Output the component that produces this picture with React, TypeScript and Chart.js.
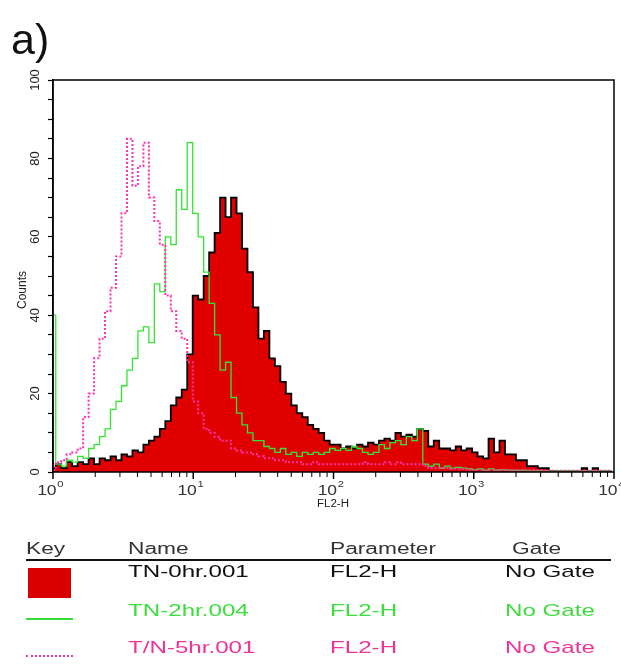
import React, { useEffect, useRef } from 'react';
import { Chart, registerables } from 'chart.js';

Chart.register(...registerables);

// ---- axis definitions ----
const X_TICKS = [
  1, 2, 3, 4, 5, 6, 7, 8, 9,
  10, 20, 30, 40, 50, 60, 70, 80, 90,
  100, 200, 300, 400, 500, 600, 700, 800, 900,
  1000, 2000, 3000, 4000, 5000, 6000, 7000, 8000, 9000,
  10000,
];
const X_DECADES = [1, 10, 100, 1000, 10000];
const X_EXPONENTS = ['0', '1', '2', '3', '4'];
const Y_TICKS = [0, 5, 10, 15, 20, 25, 30, 35, 40, 45, 50, 55, 60, 65, 70, 75, 80, 85, 90, 95, 100];
const Y_LABELS = [0, 20, 40, 60, 80, 100];

// FACS 1024-channel / 4-decade log amplifier: FL2-H = 10^(channel/256); histograms binned every 10 channels
const CHANNEL_STEP = 10;
const CHANNELS_PER_DECADE = 256;

// ---- histogram counts, one value per 10-channel bin ----
const RED_0HR = [
  1, 2, 1, 2.5, 1.5, 2.5, 2, 3.5, 2, 3.5,
  3, 4, 3, 4.5, 4, 5.5, 5, 7, 8, 9,
  11, 13, 17, 19, 21, 30, 45, 44, 50, 56,
  61, 70, 65, 70, 66, 57, 51, 42, 34, 36,
  29, 27, 23, 20, 17, 15, 14, 12, 11, 10,
  8, 7, 7, 6, 6.5, 6, 7, 6.5, 7.5, 7,
  8, 8.5, 8, 10, 9, 9.5, 9, 11, 10.5, 6.5,
  8, 6, 6, 5.5, 6.5, 5.5, 6, 5, 4, 3.5,
  8.5, 5, 8, 4.5, 4.5, 3, 3, 1.5, 1.5, 1,
  1, 0.3, 0.2, 0.2, 0.2, 0.2, 0.2, 1, 0.2, 1,
  0.2, 0.2, 0.2,
];
const GREEN_2HR = [
  40, 2, 1.5, 3, 2.5, 4, 3.5, 6, 7, 9,
  11, 16, 18, 22, 26, 29, 36, 37, 33, 48,
  46, 60, 58, 72, 67, 84, 66, 60, 51, 43,
  35, 26, 28, 19, 15, 12, 10, 8, 8, 6.5,
  6, 5, 6, 4.5, 5, 4, 5, 4.5, 5, 4.5,
  5, 6, 5.5, 6, 5.5, 6.5, 6, 5, 4.5, 5,
  7, 6, 7.5, 8, 7, 9, 8, 11, 2, 1.5,
  2, 1, 1.5, 1, 1.2, 1, 0.8, 0.6, 0.8, 0.5,
  0.8, 0.5, 0.6, 0.5, 0.4, 0.4, 0.4, 0.3, 0.3, 0.3,
  0.3, 0.3, 0.3, 0.3, 0.3, 0.3, 0.3, 0.3, 0.3, 0.3,
  0.3, 0.3, 0.3,
];
const PINK_5HR = [
  0.5, 2.5, 3, 4.5, 5, 6, 14, 20, 29, 34,
  41, 47, 55, 66, 85, 73, 78, 84, 70, 64,
  58, 45, 41, 36, 34, 28, 18, 15, 11, 10,
  9, 8, 8, 6, 5.5, 5, 5, 4.5, 4, 3.5,
  3.5, 3, 3, 2.5, 2.5, 2.5, 2, 2, 2.5, 2,
  2, 2, 2, 2, 2, 2, 2, 2.5, 2, 2,
  2, 2.5, 2, 2.5, 2, 2, 2, 2, 1.5, 1,
  1, 1, 1, 0.8, 0.8, 0.8, 0.6, 0.6, 0.5, 0.5,
  0.5, 0.5, 0.5, 0.5, 0.5, 0.5, 0.5, 0.5, 0.5, 0.5,
  0.3, 0.3, 0.3, 0.3, 0.3, 0.3, 0.3, 0.3, 0.3, 0.3,
  0.3, 0.3, 0.3,
];

// ---- key table ----
const KEY_HEADERS = ['Key', 'Name', 'Parameter', 'Gate'];
const KEY_NAMES = ['TN-0hr.001', 'TN-2hr.004', 'T/N-5hr.001'];
const KEY_PARAMS = ['FL2-H', 'FL2-H', 'FL2-H'];
const KEY_GATES = ['No Gate', 'No Gate', 'No Gate'];

const RED = '#e00000';
const GREEN = '#33e633';
const PINK = '#ff33aa';
const FONT = '"Liberation Sans", Arial, Helvetica, sans-serif';

const toPoints = (vals: number[]) =>
  vals.map((y, i) => ({ x: Math.pow(10, (i * CHANNEL_STEP) / CHANNELS_PER_DECADE), y }));

const framePlugin = {
  id: 'frame',
  afterDraw(chart: any) {
    const { ctx, chartArea: a } = chart;
    const x = chart.scales.x;
    ctx.save();
    ctx.strokeStyle = '#000';
    ctx.lineWidth = 1.5;
    ctx.strokeRect(a.left, a.top, a.right - a.left, a.bottom - a.top);
    X_TICKS.forEach((v) => {
      const px = x.getPixelForValue(v);
      const major = X_DECADES.includes(v);
      ctx.lineWidth = major ? 1.5 : 1;
      ctx.beginPath();
      ctx.moveTo(px, a.bottom);
      ctx.lineTo(px, a.bottom + (major ? 7 : 5));
      ctx.stroke();
    });
    ctx.fillStyle = '#333';
    ctx.textBaseline = 'alphabetic';
    X_DECADES.forEach((v, i) => {
      const px = x.getPixelForValue(v) - 3;
      ctx.save();
      ctx.translate(px, a.bottom);
      ctx.scale(1.25, 1);
      ctx.font = `14px ${FONT}`;
      const w1 = ctx.measureText('10').width;
      ctx.font = `9px ${FONT}`;
      const w2 = ctx.measureText(X_EXPONENTS[i]).width;
      const start = -(w1 + w2) / 2;
      ctx.font = `14px ${FONT}`;
      ctx.fillText('10', start, 23);
      ctx.font = `9px ${FONT}`;
      ctx.fillText(X_EXPONENTS[i], start + w1 + 0.5, 15);
      ctx.restore();
    });
    ctx.restore();
  },
};

function HistogramChart() {
  const ref = useRef<HTMLCanvasElement | null>(null);
  useEffect(() => {
    if (!ref.current) return;
    const chart = new Chart(ref.current, {
      type: 'line',
      data: {
        datasets: [
          {
            label: 'T/N-5hr.001',
            data: toPoints(PINK_5HR),
            borderColor: PINK,
            borderWidth: 2,
            borderDash: [2, 2],
            stepped: 'middle',
            pointRadius: 0,
            fill: false,
          },
          {
            label: 'TN-2hr.004',
            data: toPoints(GREEN_2HR),
            borderColor: GREEN,
            borderWidth: 1.3,
            stepped: 'middle',
            pointRadius: 0,
            fill: false,
          },
          {
            label: 'TN-0hr.001',
            data: toPoints(RED_0HR),
            borderColor: '#000',
            borderWidth: 1.8,
            backgroundColor: RED,
            stepped: 'middle',
            pointRadius: 0,
            fill: 'origin',
          },
        ],
      },
      options: {
        animation: false,
        responsive: false,
        maintainAspectRatio: false,
        layout: { padding: { left: 0, top: 80, right: 7, bottom: 152 } },
        plugins: { legend: { display: false }, tooltip: { enabled: false } },
        scales: {
          x: {
            type: 'logarithmic',
            min: 1,
            max: 10000,
            afterBuildTicks: (s: any) => {
              s.ticks = X_TICKS.map((v) => ({ value: v }));
            },
            afterFit: (s: any) => {
              s.height = 40;
            },
            grid: { display: false },
            border: { display: false },
            ticks: { display: false },
          },
          y: {
            type: 'linear',
            min: 0,
            max: 100,
            afterBuildTicks: (s: any) => {
              s.ticks = Y_TICKS.map((v) => ({ value: v }));
            },
            afterFit: (s: any) => {
              s.width = 53;
            },
            grid: { drawOnChartArea: false, drawTicks: true, tickLength: 5, color: '#000', tickWidth: 1.2 },
            border: { display: true, color: '#000', width: 1.5 },
            ticks: {
              autoSkip: false,
              minRotation: 90,
              maxRotation: 90,
              crossAlign: 'center',
              padding: 2,
              color: '#222',
              font: { family: FONT, size: 13 },
              callback: (v: any) => (Y_LABELS.includes(Number(v)) ? String(v) : ''),
            },
          },
        },
      },
      plugins: [framePlugin],
    } as any);
    return () => chart.destroy();
  }, []);
  return <canvas ref={ref} width={621} height={664} style={{ position: 'absolute', left: 0, top: 0 }} />;
}

const txt = (
  s: string,
  left: number,
  top: number,
  size: number,
  color: string,
  stretch = 1.42,
): React.ReactElement => (
  <div
    key={`${s}-${left}-${top}`}
    style={{
      position: 'absolute',
      left,
      top,
      fontFamily: FONT,
      fontSize: size,
      lineHeight: `${size}px`,
      color,
      whiteSpace: 'nowrap',
      transform: `scaleX(${stretch})`,
      transformOrigin: 'left center',
    }}
  >
    {s}
  </div>
);

export default function App() {
  const rowColors = ['#111', '#3ddd3d', '#ee3399'];
  const rowTops = [563, 602, 639];
  const colLeft = [26, 128, 330, 505];
  const headLeft = [26, 128, 330, 512];
  return (
    <div style={{ position: 'fixed', left: 0, top: 0, width: 621, height: 664, background: '#fff', overflow: 'hidden' }}>
      <HistogramChart />
      <div style={{ position: 'absolute', left: 11, top: 18, fontFamily: FONT, fontSize: 43, lineHeight: '43px', color: '#111' }}>a)</div>
      <div
        style={{
          position: 'absolute',
          left: 22,
          top: 290,
          fontFamily: FONT,
          fontSize: 12,
          lineHeight: '12px',
          color: '#222',
          transform: 'translate(-50%, -50%) rotate(-90deg)',
          whiteSpace: 'nowrap',
        }}
      >
        Counts
      </div>
      <div
        style={{
          position: 'absolute',
          left: 333,
          top: 504,
          fontFamily: FONT,
          fontSize: 10,
          lineHeight: '10px',
          color: '#222',
          transform: 'translate(-50%, -50%) scaleX(1.15)',
          whiteSpace: 'nowrap',
        }}
      >
        FL2-H
      </div>
      {KEY_HEADERS.map((h, i) => txt(h, headLeft[i], 541, 16, '#333'))}
      <div style={{ position: 'absolute', left: 26, top: 559, width: 585, height: 2, background: '#111' }} />
      <div style={{ position: 'absolute', left: 28, top: 568, width: 43, height: 30, background: '#d80000' }} />
      <div style={{ position: 'absolute', left: 26, top: 618, width: 47, height: 2, background: '#33dd33' }} />
      <div style={{ position: 'absolute', left: 26, top: 655, width: 47, height: 0, borderTop: '2px dotted #ee3399' }} />
      {KEY_NAMES.map((n, i) => txt(n, colLeft[1], rowTops[i], 17, rowColors[i]))}
      {KEY_PARAMS.map((p, i) => txt(p, colLeft[2], rowTops[i], 17, rowColors[i]))}
      {KEY_GATES.map((g, i) => txt(g, colLeft[3], rowTops[i], 17, rowColors[i]))}
    </div>
  );
}
